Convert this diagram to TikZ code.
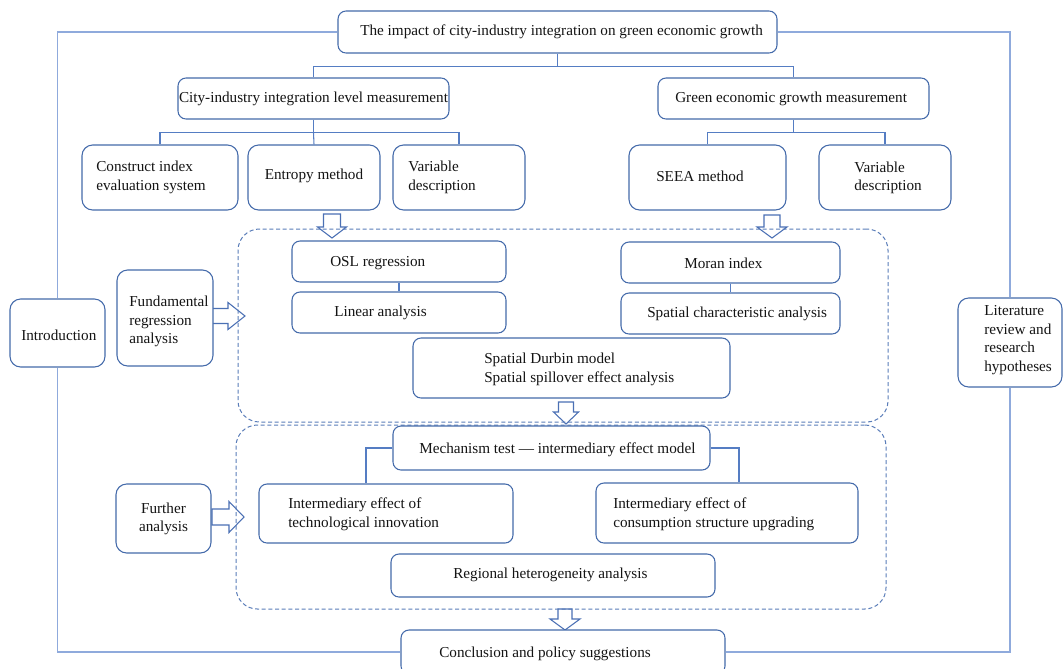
\documentclass[tikz,border=0pt]{standalone}
\usepackage{fontspec}
\setmainfont{Liberation Serif}
\usetikzlibrary{calc}
\definecolor{boxc}{RGB}{68,106,170}
\definecolor{framec}{RGB}{143,170,220}
\definecolor{connc}{RGB}{85,125,195}
\definecolor{dashc}{RGB}{90,125,185}
\definecolor{arrc}{RGB}{75,112,180}
\definecolor{txtc}{RGB}{20,20,20}
\newcommand\mybox[6][box]{%
  \pgfmathsetmacro\bw{(#5-#3)*0.75}%
  \pgfmathsetmacro\bh{(#6-#4)*0.75}%
  \node[#1, minimum width=\bw pt, minimum height=\bh pt] (#2) at ({(#3+#5)/2},{(#4+#6)/2}) {};%
}
\newcommand\blockdown[6]{%
  \draw[barrow] ({#1-#5},#2) -- ({#1+#5},#2) -- ({#1+#5},#3) -- ({#1+#6},#3) -- (#1,#4) -- ({#1-#6},#3) -- ({#1-#5},#3) -- cycle;%
}
\newcommand\blockright[6]{%
  \draw[barrow] (#2,{#1-#5}) -- (#3,{#1-#5}) -- (#3,{#1-#6}) -- (#4,#1) -- (#3,{#1+#6}) -- (#3,{#1+#5}) -- (#2,{#1+#5}) -- cycle;%
}
\begin{document}
\begin{tikzpicture}[x=0.75pt,y=-0.75pt,
  box/.style={draw=boxc, line width=0.8pt, rounded corners=6pt, fill=white, inner sep=0pt},
  tallbox/.style={box, rounded corners=8pt},
  dbox/.style={draw=dashc, line width=0.75pt, dash pattern=on 3pt off 2pt, rounded corners=16pt, inner sep=0pt},
  txt/.style={text=txtc, font=\fontsize{11.4pt}{13.9pt}\selectfont, align=left, inner sep=0pt},
  ctxt/.style={txt, align=center},
  conn/.style={draw=connc, line width=0.8pt},
  frame/.style={draw=framec, line width=1pt},
  barrow/.style={draw=arrc, line width=0.8pt, fill=white, line join=miter}
]
\clip (0,0) rectangle (1064,668);
\fill[white] (0,0) rectangle (1064,668);

% block arrows (drawn below dashed frames)
\blockdown{332}{214}{227}{238}{8.5}{14.5}
\blockdown{772}{215}{227}{238}{8}{15}
\blockdown{566}{402}{412}{424}{7.5}{12.5}
\blockdown{565}{609}{619}{630}{7}{15}
\blockright{316}{212}{228}{245}{7.5}{13.5}
\blockright{517}{212}{229}{244}{8}{15.5}

% dashed group frames
\mybox[dbox]{grpA}{238}{229}{888}{422}
\mybox[dbox]{grpB}{236}{425}{886}{609}

% boxes
\mybox{title}{338}{11}{777}{53}
\mybox{city}{178}{78}{449}{119}
\mybox{green}{658}{78}{929}{119}
\mybox[tallbox]{construct}{82}{145}{238}{210}
\mybox[tallbox]{entropy}{248}{145}{380}{210}
\mybox[tallbox]{varA}{393}{145}{525}{210}
\mybox[tallbox]{seea}{629}{145}{786}{210}
\mybox[tallbox]{varB}{819}{145}{951}{210}
\mybox{osl}{292}{241}{506}{282}
\mybox{linear}{292}{292}{506}{333}
\mybox{moran}{621}{242}{840}{283}
\mybox{spatial}{621}{293}{840}{334}
\mybox{durbin}{413}{338}{730}{398}
\mybox[tallbox]{intro}{10}{299}{105}{367}
\mybox[tallbox]{fund}{117}{270}{213}{366}
\mybox[tallbox]{lit}{958}{298}{1062}{387}
\mybox{mech}{393}{426}{710}{470}
\mybox{tech}{259}{484}{513}{543}
\mybox{cons}{596}{483}{858}{543}
\mybox{regional}{391}{554}{715}{597}
\mybox[tallbox]{further}{116}{484}{211}{553}
\mybox{concl}{401}{630}{725}{674}

% texts
\node[txt, anchor=west] (ttitle) at (360,32) {The impact of city-industry integration on green economic growth};
\node[ctxt] (tcity) at (313.5,98.5) {City-industry integration level measurement};
\node[txt, anchor=west] (tgreen) at (675,98.5) {Green economic growth measurement};
\node[txt, anchor=west] (tconstruct) at (96,177.5) {Construct index\\evaluation system};
\node[ctxt] (tentropy) at (314,176) {Entropy method};
\node[txt, anchor=west] (tvarA) at (408,177.5) {Variable\\description};
\node[txt, anchor=west] (tseea) at (656,176) {SEEA method};
\node[txt, anchor=west] (tvarB) at (854,178) {Variable\\description};
\node[txt, anchor=west] (tosl) at (330,263) {OSL regression};
\node[txt, anchor=west] (tlinear) at (334,313) {Linear analysis};
\node[txt, anchor=west] (tmoran) at (684,263) {Moran index};
\node[txt, anchor=west] (tspatial) at (647,314) {Spatial characteristic analysis};
\node[txt, anchor=west] (tdurbin) at (484,369.5) {Spatial Durbin model\\Spatial spillover effect analysis};
\node[txt, anchor=west] (tintro) at (21,335) {Introduction};
\node[txt, anchor=west] (tfund) at (129,321.5) {Fundamental\\regression\\analysis};
\node[txt, anchor=west] (tlit) at (984,340) {Literature\\review and\\research\\hypotheses};
\node[txt, anchor=west] (tmech) at (419,450) {Mechanism test — intermediary effect model};
\node[txt, anchor=west] (ttech) at (288,514.5) {Intermediary effect of\\technological innovation};
\node[txt, anchor=west] (tcons) at (613,514.5) {Intermediary effect of\\consumption structure upgrading};
\node[txt, anchor=west] (tregional) at (453,575) {Regional heterogeneity analysis};
\node[ctxt] (tfurther) at (163.5,519) {Further\\analysis};
\node[txt, anchor=west] (tconcl) at (439,654) {Conclusion and policy suggestions};

% tree connectors
\draw[conn] (title.south) -- ++(0,13) -| (city.north);
\draw[conn] ($(title.south)+(0,13)$) -| (green.north);
\draw[conn] (city.south) -- ++(0,13) -| (construct.north);
\draw[conn] ($(city.south)+(0,13)$) -- (entropy.north);
\draw[conn] ($(city.south)+(0,13)$) -| (varA.north);
\draw[conn] (green.south) -- ++(0,13) -| (seea.north);
\draw[conn] ($(green.south)+(0,13)$) -| (varB.north);
\draw[conn] (osl.south) -- (linear.north);
\draw[conn] (moran.south) -- (spatial.north);
\draw[conn] (mech.west) -| ([xshift=-15pt]tech.north);
\draw[conn] (mech.east) -| ([xshift=9pt]cons.north);

% outer frame
\draw[frame] (title.west) -| (intro.north);
\draw[frame] (intro.south) |- (concl.west);
\draw[frame] (title.east) -| (lit.north);
\draw[frame] (lit.south) |- (concl.east);
\end{tikzpicture}
\end{document}
